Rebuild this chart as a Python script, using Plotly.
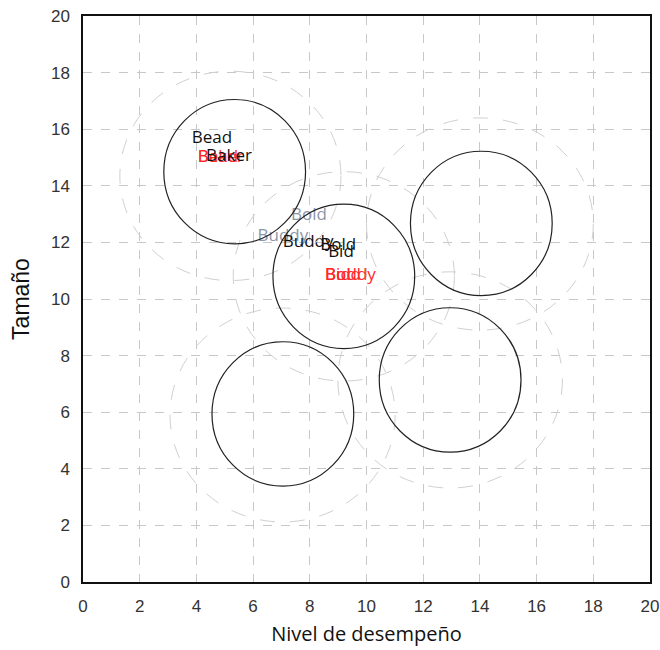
import plotly.graph_objects as go

# Cluster centres (solid circles) and outer dashed circles
cluster_x = [5.35, 9.2, 14.05, 7.05, 12.95]
cluster_y = [14.5, 10.8, 12.67, 5.94, 7.14]
inner_rx = [2.5, 2.5, 2.5, 2.5, 2.5]
inner_ry = [2.55, 2.55, 2.55, 2.55, 2.55]
outer_cx = [5.2, 9.2, 14.0, 7.04, 12.95]
outer_cy = [14.35, 10.8, 12.65, 5.9, 7.14]
outer_rx = [3.9, 3.9, 4.0, 3.97, 3.96]
outer_ry = [3.7, 3.7, 3.75, 3.78, 3.82]

# Labels
lab_text = ["Bead", "Bead", "Baker", "Baker",
            "Bold", "Buddy", "Buddy", "Bold", "Bid",
            "Buddy", "Bold", "Bid"]
lab_x = [4.55, 4.05, 4.05, 5.15,
         7.97, 7.05, 7.94, 9.0, 9.1,
         8.54, 8.54, 8.54]
lab_y = [15.65, 15.0, 15.0, 15.02,
         12.93, 12.19, 11.98, 11.87, 11.63,
         10.81, 10.81, 10.81]
lab_color = ["#111111", "#ff2a2a", "#ff2a2a", "#111111",
             "#8c96a8", "#8c96a8", "#111111", "#111111", "#111111",
             "#ff2a2a", "#ff2a2a", "#ff2a2a"]
lab_pos = ["middle center", "middle right", "middle right", "middle center",
           "middle center", "middle center", "middle center", "middle center", "middle center",
           "middle right", "middle right", "middle right"]

x_ticks = [0, 2, 4, 6, 8, 10, 12, 14, 16, 18, 20]
y_ticks = [0, 2, 4, 6, 8, 10, 12, 14, 16, 18, 20]

fig = go.Figure()

shapes = []
for cx, cy, rx, ry in zip(outer_cx, outer_cy, outer_rx, outer_ry):
    shapes.append(dict(type="circle", xref="x", yref="y",
                       x0=cx - rx, x1=cx + rx, y0=cy - ry, y1=cy + ry,
                       line=dict(color="#d0d0d0", width=1, dash="longdash"),
                       layer="above"))
for cx, cy, rx, ry in zip(cluster_x, cluster_y, inner_rx, inner_ry):
    shapes.append(dict(type="circle", xref="x", yref="y",
                       x0=cx - rx, x1=cx + rx, y0=cy - ry, y1=cy + ry,
                       line=dict(color="#222222", width=1.2),
                       layer="above"))

for t, x, y, c, p in zip(lab_text, lab_x, lab_y, lab_color, lab_pos):
    fig.add_trace(go.Scatter(x=[x], y=[y], mode="text", text=[t],
                             textposition=p,
                             textfont=dict(family="Open Sans", size=17, color=c),
                             showlegend=False, hoverinfo="skip"))

fig.update_layout(
    width=660, height=650,
    margin=dict(l=83, r=10, t=16, b=68, autoexpand=False),
    paper_bgcolor="white", plot_bgcolor="white",
    shapes=shapes,
    showlegend=False,
)
fig.update_xaxes(range=[0, 20], tickvals=x_ticks, ticktext=[str(v) for v in x_ticks],
                 automargin=False,
                 showgrid=True, gridcolor="#c8c8c8", griddash="dash", gridwidth=1,
                 showline=True, linecolor="#111111", linewidth=1.5, mirror=True,
                 zeroline=False, ticks="outside", ticklen=8, tickcolor="rgba(0,0,0,0)",
                 tickfont=dict(family="Liberation Sans", size=17, color="#333333"),
                 title=dict(text="Nivel de desempeño", standoff=12,
                            font=dict(family="Open Sans", size=20, color="#111111")))
fig.update_yaxes(range=[0, 20], tickvals=y_ticks, ticktext=[str(v) for v in y_ticks],
                 automargin=False,
                 showgrid=True, gridcolor="#c8c8c8", griddash="dash", gridwidth=1,
                 showline=True, linecolor="#111111", linewidth=1.5, mirror=True,
                 zeroline=False, ticks="outside", ticklen=8, tickcolor="rgba(0,0,0,0)",
                 tickfont=dict(family="Liberation Sans", size=17, color="#333333"),
                 title=dict(text="Tamaño", standoff=15,
                            font=dict(family="Liberation Sans", size=23, color="#111111")))

fig.write_html("out.html",
               config={"displayModeBar": False},
               post_script="document.body.style.margin='0';document.body.style.overflow='hidden';")
